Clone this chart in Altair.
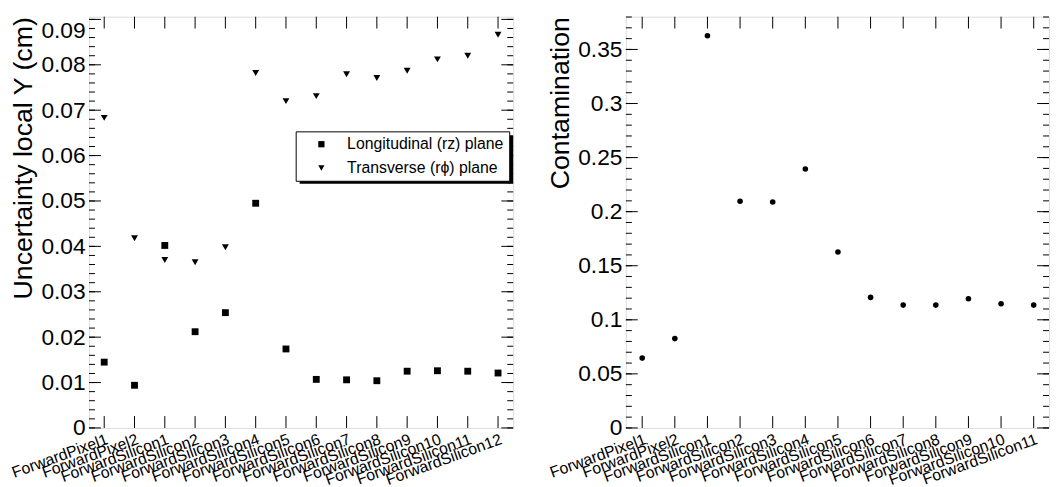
import json
import altair as alt
import pandas as pd

# ---------------- data ----------------
cats_left = ["ForwardPixel1", "ForwardPixel2", "ForwardSilicon1", "ForwardSilicon2",
             "ForwardSilicon3", "ForwardSilicon4", "ForwardSilicon5", "ForwardSilicon6",
             "ForwardSilicon7", "ForwardSilicon8", "ForwardSilicon9", "ForwardSilicon10",
             "ForwardSilicon11", "ForwardSilicon12"]
long_vals = [0.0145, 0.0094, 0.0402, 0.0212, 0.0254, 0.0495, 0.0174,
             0.0107, 0.0106, 0.0104, 0.0125, 0.0126, 0.0125, 0.0121]
trans_vals = [0.0683, 0.0418, 0.0370, 0.0365, 0.0398, 0.0782, 0.0720,
              0.0731, 0.0779, 0.0771, 0.0787, 0.0812, 0.0820, 0.0866]

cats_right = ["ForwardPixel1", "ForwardPixel2", "ForwardSilicon1", "ForwardSilicon2",
              "ForwardSilicon3", "ForwardSilicon4", "ForwardSilicon5", "ForwardSilicon6",
              "ForwardSilicon7", "ForwardSilicon8", "ForwardSilicon9", "ForwardSilicon10",
              "ForwardSilicon11"]
contam_vals = [0.0646, 0.0826, 0.3626, 0.2096, 0.2090, 0.2395, 0.1627,
               0.1207, 0.1136, 0.1136, 0.1195, 0.1149, 0.1136]

series_names = ["Longitudinal (rz) plane", "Transverse (r\u03d5) plane"]

left_major = [0, 0.01, 0.02, 0.03, 0.04, 0.05, 0.06, 0.07, 0.08, 0.09]
left_minor = [round(k * 0.002, 4) for k in range(46)]
right_major = [0, 0.05, 0.1, 0.15, 0.2, 0.25, 0.3, 0.35]
right_minor = [round(k * 0.01, 3) for k in range(39)]

FONT = "Liberation Sans"

# ---------------- helpers ----------------
def x_axis(cats):
    centers = [i + 0.5 for i in range(len(cats))]
    expr = json.dumps(cats) + "[floor(datum.value)]"
    return alt.Axis(values=centers, labelExpr=expr, labelAngle=340, labelAlign="right",
                    labelBaseline="top", labelFontSize=16, labelPadding=3, ticks=False,
                    domain=False, grid=False, title=None, labelOverlap=False,
                    labelFont=FONT, labelColor="black")


def y_axis(values, title, top_thresh):
    return alt.Axis(values=values, format="~g", ticks=False, domain=False, grid=False,
                    labelFontSize=23, labelPadding=4, labelFont=FONT, labelColor="black",
                    labelBaseline={"condition": {"test": f"datum.value > {top_thresh}",
                                                 "value": "top"},
                                   "value": "middle"},
                    labelOverlap=False, title=title, titleFontSize=27, titleFont=FONT,
                    titleFontWeight="normal", titleColor="black", titleAnchor="end",
                    titlePadding=3)


def frame_ticks(n, xscale, yscale, xax, yax, major, minor, W, H):
    xt = pd.DataFrame({"pos": [i + 0.5 for i in range(n)]})
    ymaj = pd.DataFrame({"v": major})
    ymin = pd.DataFrame({"v": minor})
    layers = []
    for y0, y1 in [(H - 12, H), (0, 12)]:
        layers.append(alt.Chart(xt).mark_rule(color="black", strokeWidth=1).encode(
            x=alt.X("pos:Q", scale=xscale, axis=xax),
            y=alt.value(y0), y2=alt.value(y1)))
    for df, L in [(ymaj, 12), (ymin, 6)]:
        for x0, x1 in [(0, L), (W - L, W)]:
            layers.append(alt.Chart(df).mark_rule(color="black", strokeWidth=1).encode(
                y=alt.Y("v:Q", scale=yscale, axis=yax),
                x=alt.value(x0), x2=alt.value(x1)))
    return layers

# ---------------- left panel ----------------
WL, H = 429, 416
xs_l = alt.Scale(domain=[0, 14], nice=False, zero=False)
ys_l = alt.Scale(domain=[0, 0.0906], nice=False, zero=False)
xax_l = x_axis(cats_left)
yax_l = y_axis(left_major, "Uncertainty local Y (cm)", 0.085)

df_left = pd.DataFrame({
    "pos": [i + 0.5 for i in range(len(cats_left))] * 2,
    "value": long_vals + trans_vals,
    "series": [series_names[0]] * len(long_vals) + [series_names[1]] * len(trans_vals),
})

pts_left = alt.Chart(df_left).mark_point(filled=True, opacity=1, color="black", size=48).encode(
    x=alt.X("pos:Q", scale=xs_l, axis=xax_l),
    y=alt.Y("value:Q", scale=ys_l, axis=yax_l),
    shape=alt.Shape("series:N",
                    scale=alt.Scale(domain=series_names, range=["square", "triangle-down"]),
                    legend=alt.Legend(orient="none", legendX=209, legendY=116, title=None,
                                      fillColor="white", strokeColor="black", padding=5,
                                      labelFontSize=16, labelFont=FONT, labelColor="black",
                                      symbolFillColor="black", symbolStrokeColor="black",
                                      symbolStrokeWidth=0, symbolSize=40, symbolOffset=13,
                                      labelOffset=18, rowPadding=8, labelLimit=400)),
)

shadow = alt.Chart(pd.DataFrame({"a": [0]})).mark_rect(color="black").encode(
    x=alt.value(213), x2=alt.value(429), y=alt.value(120), y2=alt.value(169))

left = alt.layer(
    pts_left, shadow,
    *frame_ticks(len(cats_left), xs_l, ys_l, xax_l, yax_l, left_major, left_minor, WL, H)
).properties(width=WL, height=H)

# ---------------- right panel ----------------
WR = 428
xs_r = alt.Scale(domain=[0, WR / 33.0], nice=False, zero=False)
ys_r = alt.Scale(domain=[0, 0.3803], nice=False, zero=False)
xax_r = x_axis(cats_right)
yax_r = y_axis(right_major, "Contamination", 0.37)

df_right = pd.DataFrame({
    "pos": [i + 0.5 for i in range(len(cats_right))],
    "value": contam_vals,
})

pts_right = alt.Chart(df_right).mark_point(filled=True, opacity=1, color="black",
                                           shape="circle", size=32).encode(
    x=alt.X("pos:Q", scale=xs_r, axis=xax_r),
    y=alt.Y("value:Q", scale=ys_r, axis=yax_r),
)

right = alt.layer(
    pts_right,
    *frame_ticks(len(cats_right), xs_r, ys_r, xax_r, yax_r, right_major, right_minor, WR, H)
).properties(width=WR, height=H)

chart = alt.hconcat(left, right, spacing=32).properties(
    padding={"left": 0, "top": 5, "right": 0, "bottom": 0}
).configure_view(stroke="black", strokeWidth=2).configure(background="white")

chart.save("out.html", embed_options={"renderer": "svg", "actions": False})
